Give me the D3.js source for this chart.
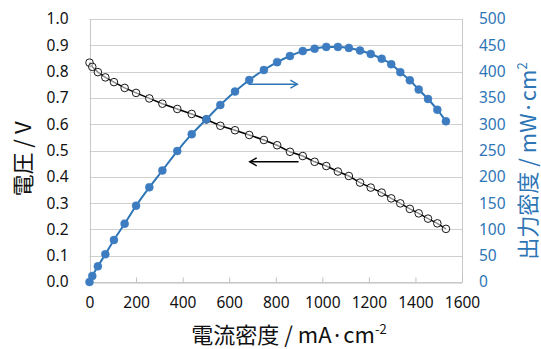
<!DOCTYPE html>
<html>
<head>
<meta charset="utf-8">
<script src="https://cdn.jsdelivr.net/npm/d3@7"></script>
<style>
  html, body { margin: 0; padding: 0; background: #ffffff; }
  svg { display: block; }
  .tick text { font-family: "Noto Sans", "DejaVu Sans", sans-serif; }
</style>
</head>
<body>
<div id="chart"></div>
<script>
// ---- data ----
const currentDensity = [0, 12, 36, 68, 105, 151, 200, 257, 313, 377, 439, 502, 562, 625, 686, 749, 806, 861, 916, 967, 1017, 1067, 1114, 1162, 1208, 1255, 1296, 1335, 1376, 1414, 1454, 1494, 1531];
const voltage = [0.834, 0.818, 0.798, 0.778, 0.760, 0.738, 0.719, 0.698, 0.678, 0.658, 0.639, 0.618, 0.594, 0.577, 0.559, 0.540, 0.520, 0.495, 0.479, 0.457, 0.441, 0.420, 0.403, 0.378, 0.359, 0.340, 0.318, 0.299, 0.278, 0.261, 0.241, 0.223, 0.202];
const powerDensity = [0, 11.4, 29.8, 52.7, 79.8, 110.8, 145, 180, 212, 249, 281, 309.5, 336.5, 362, 384, 403, 418, 429.6, 439, 443.5, 447, 447, 445, 440, 433.5, 424.5, 414, 399, 383.4, 366, 348, 327.5, 305.5];
const xTicks = [0, 200, 400, 600, 800, 1000, 1200, 1400, 1600];
const yLeftTicks = [0, 0.1, 0.2, 0.3, 0.4, 0.5, 0.6, 0.7, 0.8, 0.9, 1.0];
const yRightTicks = [0, 50, 100, 150, 200, 250, 300, 350, 400, 450, 500];
// annotation arrows (data units): [x0, x1, y]
const powerArrow = [683, 893, 376];     // points right, on power axis
const voltageArrow = [688, 898, 0.457]; // points left, on voltage axis

const xTitle = "電流密度 / mA·cm";
const yLeftTitle = "電圧 / V";
const yRightTitle = "出力密度 / mW·cm";

// ---- layout ----
const W = 541, H = 349;
const m = { left: 89.5, right: 79, top: 19, bottom: 67 };
const blue = "#2e75b6";
const blueFill = "#3d7cc0";

const svg = d3.select("#chart").append("svg").attr("width", W).attr("height", H);

const x = d3.scaleLinear().domain([0, 1600]).range([m.left, W - m.right]);
const yL = d3.scaleLinear().domain([0, 1]).range([H - m.bottom, m.top]);
const yR = d3.scaleLinear().domain([0, 500]).range([H - m.bottom, m.top]);

// gridlines
svg.append("g").selectAll("line").data(yLeftTicks).join("line")
  .attr("x1", x(0)).attr("x2", x(1600))
  .attr("y1", d => Math.round(yL(d)) + 0.5).attr("y2", d => Math.round(yL(d)) + 0.5)
  .attr("stroke", "#d0d0d0").attr("stroke-width", 1);

// plot area vertical borders
svg.append("g").selectAll("line").data([0, 1600]).join("line")
  .attr("x1", d => Math.round(x(d)) + 0.5).attr("x2", d => Math.round(x(d)) + 0.5)
  .attr("y1", yL(1)).attr("y2", yL(0))
  .attr("stroke", "#c8c8c8").attr("stroke-width", 1);

// x axis
const xAxis = svg.append("g")
  .attr("transform", `translate(0,${Math.round(yL(0)) + 0.5})`)
  .call(d3.axisBottom(x).tickValues(xTicks).tickSizeInner(-5).tickSizeOuter(0).tickPadding(14).tickFormat(d3.format("d")));
xAxis.select(".domain").attr("stroke", "#c0c0c0");
xAxis.selectAll(".tick line").attr("stroke", "#c0c0c0");
xAxis.selectAll(".tick text").attr("font-size", 15.5).attr("fill", "#111");

// left y axis
const yLAxis = svg.append("g")
  .attr("transform", `translate(${m.left},0)`)
  .call(d3.axisLeft(yL).tickValues(yLeftTicks).tickSize(0).tickPadding(21).tickFormat(d3.format(".1f")));
yLAxis.select(".domain").remove();
yLAxis.selectAll(".tick text").attr("font-size", 15.5).attr("fill", "#111");

// right y axis
const yRAxis = svg.append("g")
  .attr("transform", `translate(${W - m.right},0)`)
  .call(d3.axisRight(yR).tickValues(yRightTicks).tickSize(0).tickPadding(17).tickFormat(d3.format("d")));
yRAxis.select(".domain").remove();
yRAxis.selectAll(".tick text").attr("font-size", 15.5).attr("fill", blue);

// voltage series
const vData = currentDensity.map((c, i) => [c, voltage[i]]);
svg.append("path").datum(vData)
  .attr("fill", "none").attr("stroke", "#000").attr("stroke-width", 1.5)
  .attr("d", d3.line().x(d => x(d[0])).y(d => yL(d[1])));
svg.append("g").selectAll("circle").data(vData).join("circle")
  .attr("cx", d => x(d[0])).attr("cy", d => yL(d[1])).attr("r", 3.8)
  .attr("fill", "#fff").attr("fill-opacity", 0.55)
  .attr("stroke", "#000").attr("stroke-width", 0.9);

// power series
const pData = currentDensity.map((c, i) => [c, powerDensity[i]]);
svg.append("path").datum(pData)
  .attr("fill", "none").attr("stroke", blue).attr("stroke-width", 2)
  .attr("d", d3.line().curve(d3.curveMonotoneX).x(d => x(d[0])).y(d => yR(d[1])));
svg.append("g").selectAll("circle").data(pData).join("circle")
  .attr("cx", d => x(d[0])).attr("cy", d => yR(d[1])).attr("r", 4)
  .attr("fill", blueFill).attr("stroke", blueFill).attr("stroke-width", 0.5);

// arrows
function arrow(x0, x1, yy, dir, color, sw) {
  const g = svg.append("g").attr("stroke", color).attr("fill", "none").attr("stroke-width", sw);
  g.append("line").attr("x1", x0).attr("x2", x1).attr("y1", yy).attr("y2", yy);
  const tip = dir > 0 ? x1 : x0;
  g.append("path").attr("d", `M${tip - dir * 7},${yy - 4}L${tip},${yy}L${tip - dir * 7},${yy + 4}`);
}
arrow(x(powerArrow[0]), x(powerArrow[1]), yR(powerArrow[2]), 1, blue, 1.4);
arrow(x(voltageArrow[0]), x(voltageArrow[1]), yL(voltageArrow[2]), -1, "#000", 1.4);

// axis titles
const cjk = '"Noto Sans CJK JP", "Noto Sans", sans-serif';
const xt = svg.append("text")
  .attr("x", 289).attr("y", 343).attr("text-anchor", "middle")
  .attr("font-family", cjk).attr("font-size", 22).attr("fill", "#111");
xt.append("tspan").text(xTitle);
xt.append("tspan").attr("font-size", 13).attr("dy", -9).text("-2");

svg.append("text")
  .attr("transform", `translate(31,159) rotate(-90)`)
  .attr("text-anchor", "middle")
  .attr("font-family", cjk).attr("font-size", 22).attr("fill", "#111")
  .text(yLeftTitle);

const rt = svg.append("text")
  .attr("transform", `translate(536,161) rotate(-90)`)
  .attr("text-anchor", "middle")
  .attr("font-family", cjk).attr("font-size", 22).attr("fill", blue);
rt.append("tspan").text(yRightTitle);
rt.append("tspan").attr("font-size", 13).attr("dy", -9).text("2");
</script>
</body>
</html>
